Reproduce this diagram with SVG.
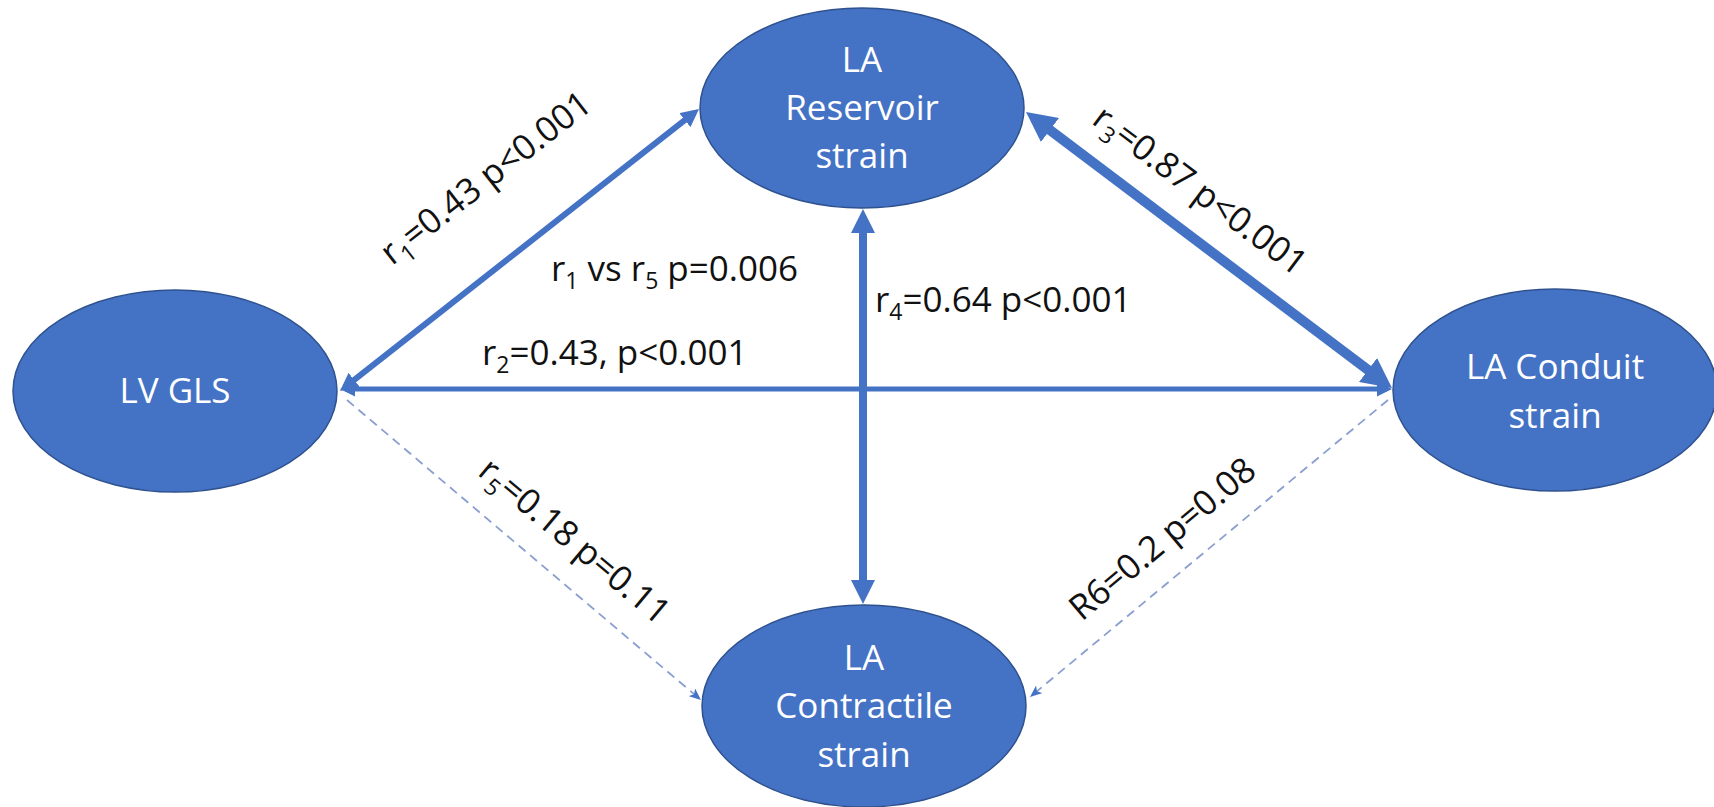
<svg xmlns="http://www.w3.org/2000/svg" width="1714" height="807" viewBox="0 0 1714 807">
<style>
.node{fill:#4472C4;stroke:#2F528F;stroke-width:1.5}
.nt{font-family:"Open Sans","Noto Sans",sans-serif;font-size:35px;fill:#ffffff;text-anchor:middle}
.lbl{font-family:"Open Sans","Noto Sans",sans-serif;font-size:35px;fill:#111111}
.sub{font-size:23px}
.solid{stroke:#4472C4;fill:none}
.dash{stroke:#8A9FD0;stroke-width:1.8;stroke-dasharray:9 6;fill:none}
</style>
<defs>
<marker id="ah" viewBox="0 0 3 3" refX="2" refY="1.5" markerWidth="3" markerHeight="3" orient="auto-start-reverse">
<path d="M0,0 L3,1.5 L0,3 z" fill="#4472C4"/>
</marker>
<marker id="ahd" viewBox="0 0 12 10" refX="12" refY="5" markerWidth="12" markerHeight="10" markerUnits="userSpaceOnUse" orient="auto">
<path d="M0,0 L12,5 L0,10 L3,5 z" fill="#4472C4"/>
</marker>
</defs>
<rect width="1714" height="807" fill="#ffffff"/>
<g id="connectors">
<line class="solid" x1="344.7" y1="387.3" x2="694.3" y2="112.7" stroke-width="6" marker-start="url(#ah)" marker-end="url(#ah)"/>
<line class="solid" x1="345" y1="389" x2="1387" y2="389" stroke-width="5" marker-start="url(#ah)" marker-end="url(#ah)"/>
<line class="solid" x1="1034" y1="118" x2="1384" y2="382" stroke-width="10" marker-start="url(#ah)" marker-end="url(#ah)"/>
<line class="solid" x1="863" y1="217" x2="863" y2="596" stroke-width="8" marker-start="url(#ah)" marker-end="url(#ah)"/>
<line class="dash" x1="347" y1="400" x2="701" y2="700" marker-end="url(#ahd)"/>
<line class="dash" x1="1388" y1="400" x2="1030" y2="697" marker-end="url(#ahd)"/>
</g>
<g id="labels">
<text class="lbl" x="493" y="187" text-anchor="middle" transform="rotate(-38 493 187)">r<tspan class="sub" dy="8">1</tspan><tspan dy="-8">=0.43 p&lt;0.001</tspan></text>
<text class="lbl" x="551" y="281">r<tspan class="sub" dy="8">1</tspan><tspan dy="-8"> vs r</tspan><tspan class="sub" dy="8">5</tspan><tspan dy="-8"> p=0.006</tspan></text>
<text class="lbl" x="482" y="365">r<tspan class="sub" dy="8">2</tspan><tspan dy="-8">=0.43, p&lt;0.001</tspan></text>
<text class="lbl" x="875" y="312">r<tspan class="sub" dy="8">4</tspan><tspan dy="-8">=0.64 p&lt;0.001</tspan></text>
<text class="lbl" x="1193" y="200" text-anchor="middle" transform="rotate(37 1193 200)">r<tspan class="sub" dy="8">3</tspan><tspan dy="-8">=0.87 p&lt;0.001</tspan></text>
<text class="lbl" x="567" y="550" text-anchor="middle" transform="rotate(40 567 550)">r<tspan class="sub" dy="8">5</tspan><tspan dy="-8">=0.18 p=0.11</tspan></text>
<text class="lbl" x="1170" y="548" text-anchor="middle" transform="rotate(-40 1170 548)">R6=0.2 p=0.08</text>
</g>
<g id="node-lvgls">
<ellipse class="node" cx="175" cy="391" rx="162" ry="101"/>
<text class="nt" x="175" y="403">LV GLS</text>
</g>
<g id="node-reservoir">
<ellipse class="node" cx="862" cy="108" rx="162" ry="100"/>
<text class="nt" x="862" y="72">LA</text>
<text class="nt" x="862" y="120">Reservoir</text>
<text class="nt" x="862" y="168">strain</text>
</g>
<g id="node-conduit">
<ellipse class="node" cx="1555" cy="390" rx="162" ry="101"/>
<text class="nt" x="1555" y="379">LA Conduit</text>
<text class="nt" x="1555" y="428">strain</text>
</g>
<g id="node-contractile">
<ellipse class="node" cx="864" cy="706" rx="162" ry="101"/>
<text class="nt" x="864" y="670">LA</text>
<text class="nt" x="864" y="718">Contractile</text>
<text class="nt" x="864" y="767">strain</text>
</g>
</svg>
